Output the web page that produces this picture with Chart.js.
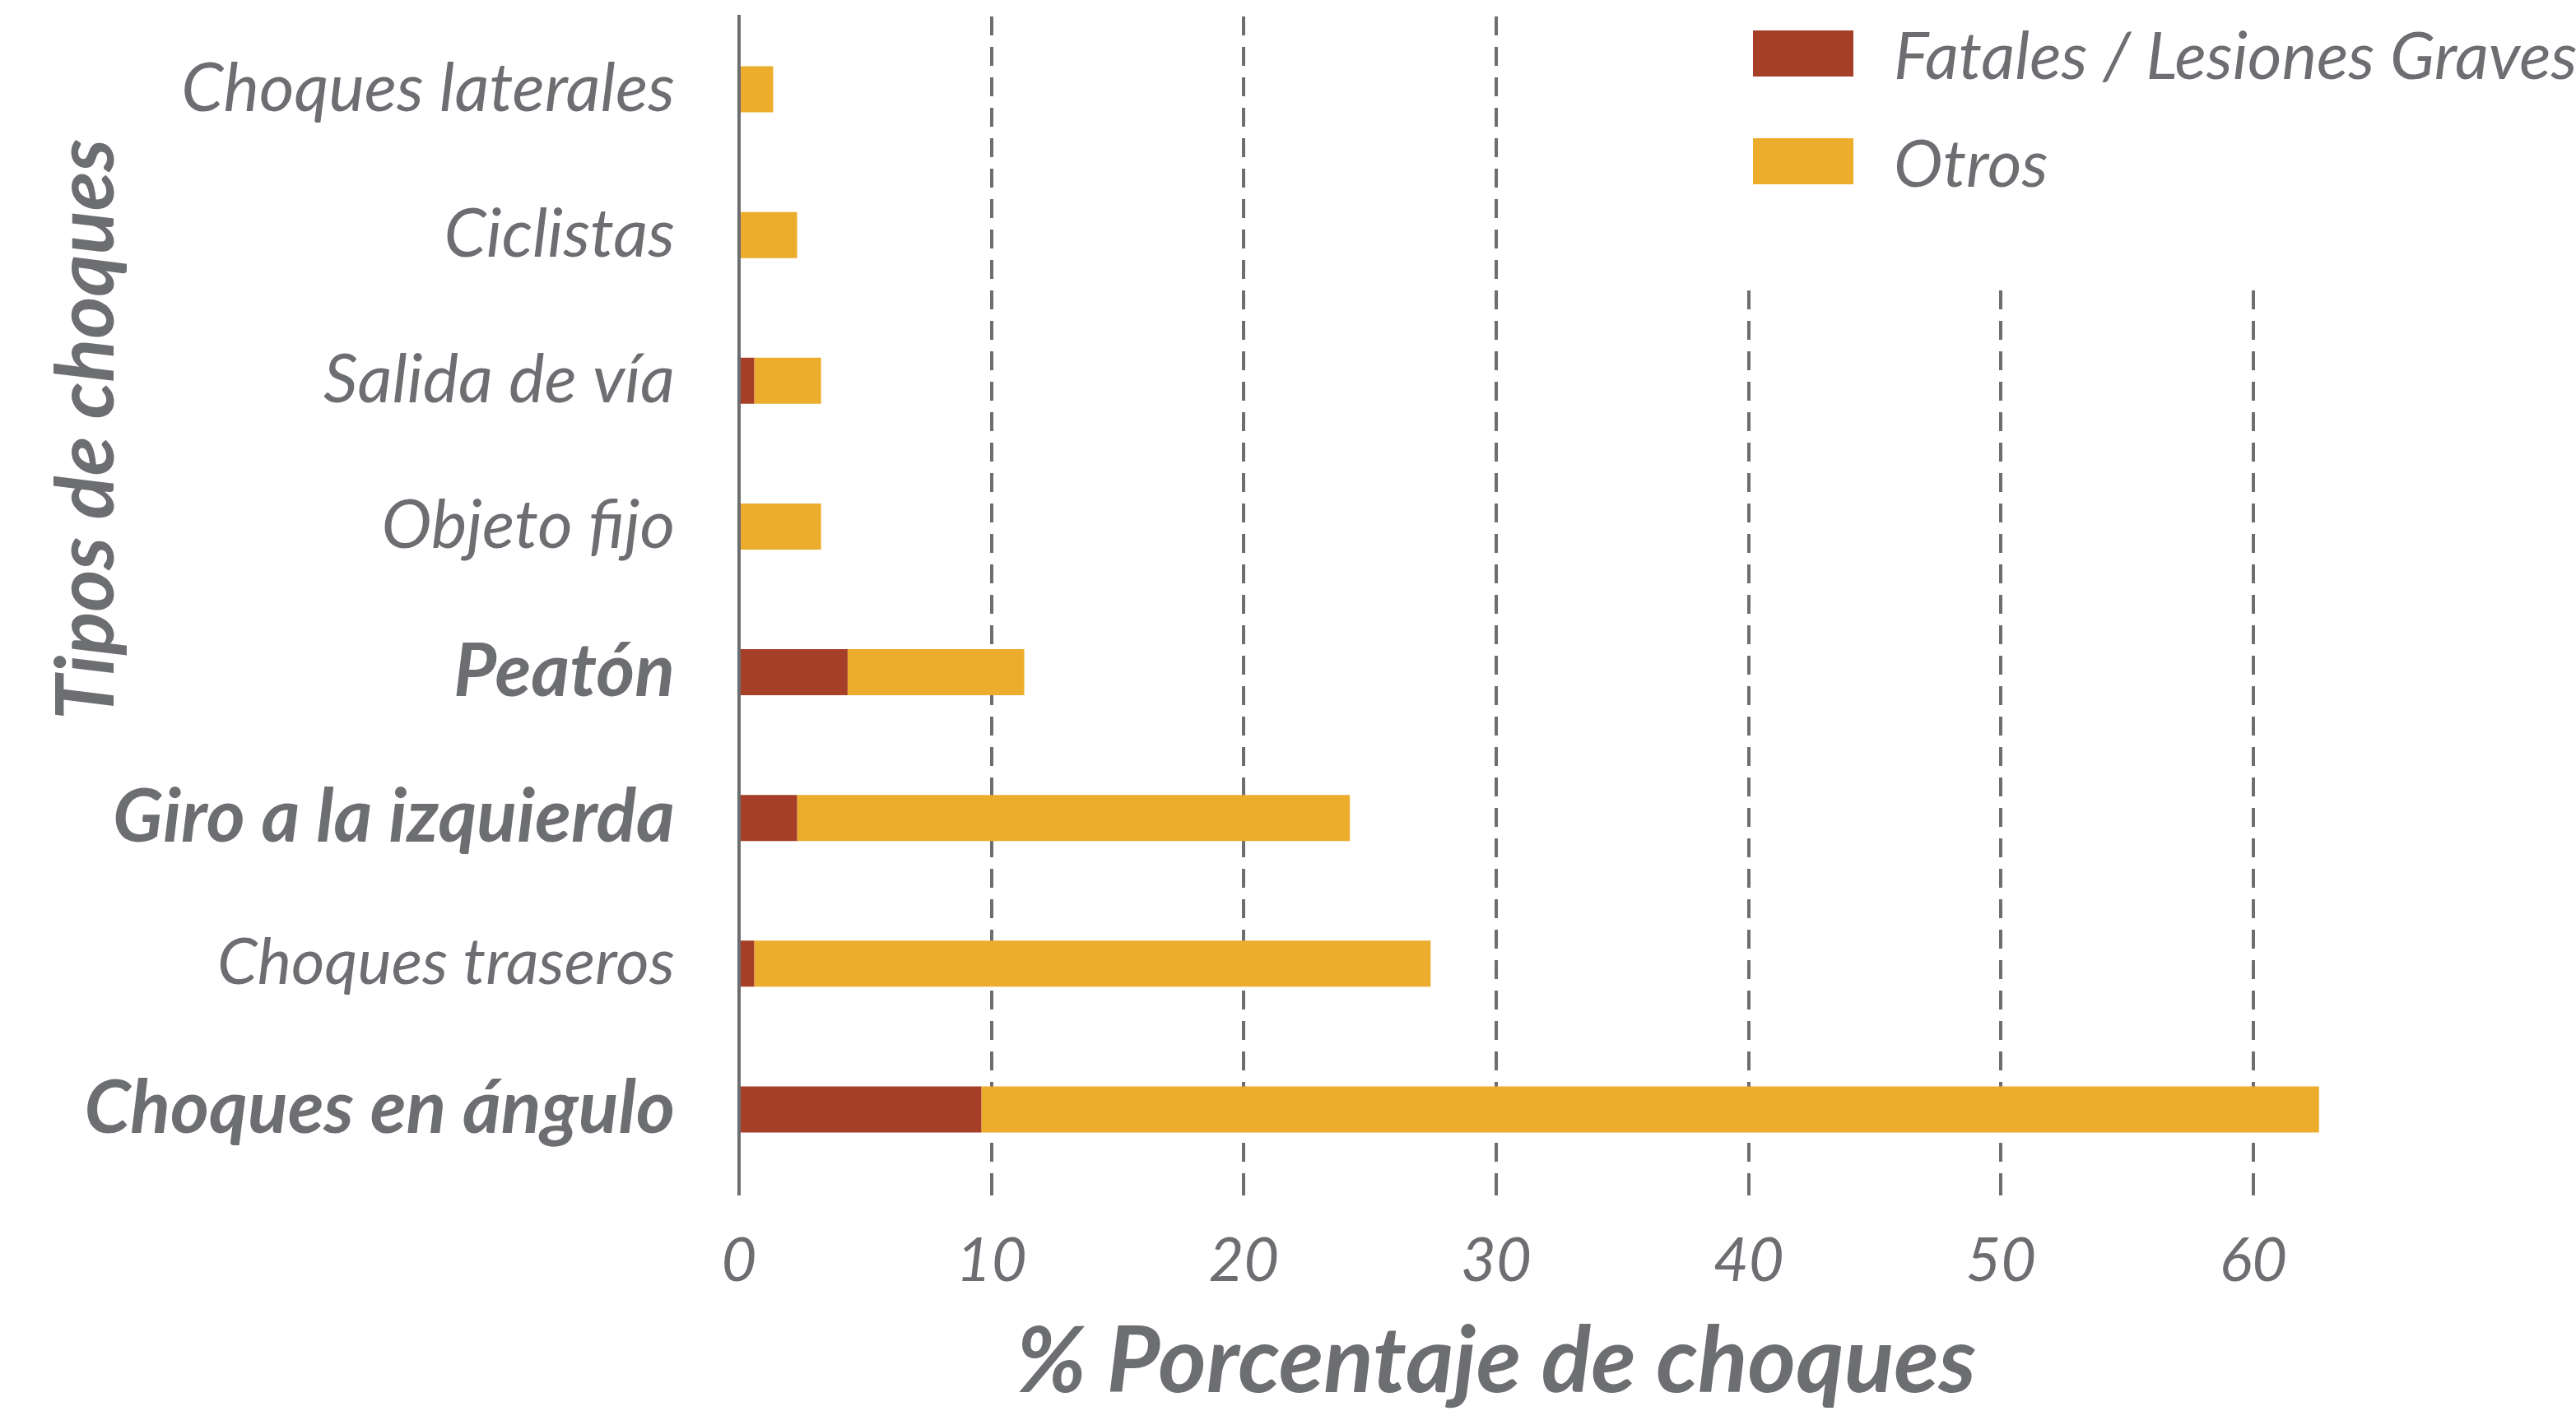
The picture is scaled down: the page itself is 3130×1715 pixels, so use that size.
<!DOCTYPE html>
<html>
<head>
<meta charset="utf-8">
<script src="https://cdn.jsdelivr.net/npm/chart.js@4.4.0/dist/chart.umd.min.js"></script>
<style>
  body { margin: 0; background: #fff; }
  #wrap { position: relative; width: 3130px; height: 1715px; }
  #legend { position: absolute; left: 2130px; top: 37px; font-family: Lato, sans-serif; font-style: italic; color: #6d6e71; }
  .item { display: flex; align-items: center; height: 56px; margin-bottom: 75px; white-space: nowrap; }
  .box { width: 122px; height: 56px; margin-right: 49px; }
  .item span { font-size: 80px; line-height: 56px; }
</style>
</head>
<body>
<div id="wrap">
  <canvas id="grafico" width="3130" height="1715"></canvas>
  <div id="legend"></div>
</div>
<script>
// Datos (de arriba hacia abajo)
const categorias = ['Choques laterales', 'Ciclistas', 'Salida de vía', 'Objeto fijo', 'Peatón', 'Giro a la izquierda', 'Choques traseros', 'Choques en ángulo'];
const fatalesGraves = [0, 0, 0.6, 0, 4.3, 2.3, 0.6, 9.6];
const otros = [1.35, 2.3, 2.65, 3.25, 7.0, 21.9, 26.8, 53.0];
const ticksX = [0, 10, 20, 30, 40, 50, 60];
const nombresSeries = ['Fatales / Lesiones Graves', 'Otros'];

const GRIS = '#6d6e71';
const ROJO = '#a63f27';
const AMARILLO = '#ecac2c';

// estilo de cada etiqueta del eje Y
const normal = { style: 'italic', weight: 'normal', size: 82, family: 'Lato' };
const negrita = { style: 'italic', weight: 'bold', size: 90, family: 'Lato' };
const fuentesEtiquetas = [normal, normal, normal, normal, negrita, negrita,
    { style: 'italic', weight: 'normal', size: 78, family: 'Lato' }, negrita];

// Titulos de ejes y tapa de la cuadricula detras de la leyenda
const extras = {
    id: 'extras',
    beforeDatasetsDraw(chart) {
        const ctx = chart.ctx;
        const x0 = chart.scales.x.getPixelForValue(35);
        ctx.save();
        ctx.fillStyle = '#fff';
        ctx.fillRect(x0, 0, chart.width - x0, 340);
        ctx.restore();
    },
    afterDraw(chart) {
        const ctx = chart.ctx;
        ctx.save();
        ctx.fillStyle = GRIS;
        ctx.textAlign = 'center';
        ctx.textBaseline = 'alphabetic';
        ctx.font = 'italic bold 112px Lato';
        ctx.fillText('% Porcentaje de choques', chart.scales.x.getPixelForValue(30), 1692);
        ctx.font = 'italic bold 98px Lato';
        ctx.translate(138, 522);
        ctx.rotate(-Math.PI / 2);
        ctx.fillText('Tipos de choques', 0, 0);
        ctx.restore();
    }
};

const chart = new Chart(document.getElementById('grafico'), {
    type: 'bar',
    data: {
        labels: categorias,
        datasets: [
            { label: nombresSeries[0], data: fatalesGraves, backgroundColor: ROJO },
            { label: nombresSeries[1], data: otros, backgroundColor: AMARILLO }
        ]
    },
    options: {
        indexAxis: 'y',
        responsive: false,
        animation: false,
        devicePixelRatio: 1,
        categoryPercentage: 1,
        barPercentage: 0.316,
        layout: { padding: { top: 20, right: 300, bottom: 0, left: 0 } },
        plugins: {
            legend: { display: false },
            tooltip: { enabled: false }
        },
        scales: {
            x: {
                stacked: true,
                min: 0,
                max: 63,
                afterBuildTicks: scale => { scale.ticks = ticksX.map(v => ({ value: v })); },
                afterFit: scale => { scale.height = 278; },
                border: { display: false, dash: [23, 14] },
                grid: {
                    color: c => (c.tick && c.tick.value === 0) ? 'rgba(0,0,0,0)' : GRIS,
                    tickColor: GRIS,
                    lineWidth: 4,
                    tickWidth: 4,
                    tickLength: 16,
                    tickBorderDash: [16, 0]
                },
                ticks: {
                    color: GRIS,
                    padding: 36,
                    maxRotation: 0,
                    font: { family: 'Lato', style: 'italic', size: 74 }
                }
            },
            y: {
                stacked: true,
                afterFit: scale => {
                    scale.width = 898;
                    scale.paddingTop = 0;
                    scale.paddingBottom = 0;
                },
                grid: { display: false, drawTicks: false },
                border: { display: true, color: GRIS, width: 4 },
                ticks: {
                    color: GRIS,
                    padding: 78,
                    font: c => fuentesEtiquetas[c.index]
                }
            }
        }
    },
    plugins: [extras]
});

// Leyenda
const leyenda = document.getElementById('legend');
chart.data.datasets.forEach(ds => {
    const item = document.createElement('div');
    item.className = 'item';
    item.innerHTML = `<div class="box" style="background:${ds.backgroundColor}"></div><span>${ds.label}</span>`;
    leyenda.appendChild(item);
});
</script>
</body>
</html>
